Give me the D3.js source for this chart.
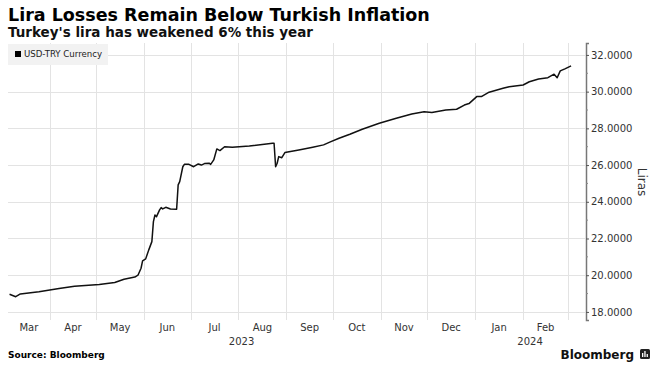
<!DOCTYPE html>
<html>
<head>
<title>Lira Losses Remain Below Turkish Inflation</title>
<style>
body {
  margin: 0;
  background-color: white;
  font-family: "DejaVu Sans", sans-serif;
}
svg {
  display: block;
}
.grid line {
  stroke: #e3e3e3;
  stroke-width: 1px;
  shape-rendering: crispEdges;
}
.axis text {
  font-family: "DejaVu Sans", sans-serif;
  font-size: 10px;
  fill: #333;
}
</style>
<script src="https://d3js.org/d3.v7.min.js"></script>
</head>
<body>
<svg width="660" height="378"></svg>
<script>
// USD-TRY daily close
const dates = [
  '2023-03-06', '2023-03-10', '2023-03-13', '2023-03-25', '2023-04-07', '2023-04-17',
  '2023-05-03', '2023-05-13', '2023-05-19', '2023-05-26', '2023-05-28', '2023-05-30',
  '2023-05-31', '2023-06-02', '2023-06-04', '2023-06-06', '2023-06-07', '2023-06-08',
  '2023-06-09', '2023-06-11', '2023-06-12', '2023-06-13', '2023-06-15', '2023-06-18',
  '2023-06-22', '2023-06-23', '2023-06-24', '2023-06-26', '2023-06-27', '2023-06-30',
  '2023-07-03', '2023-07-06', '2023-07-08', '2023-07-10', '2023-07-13', '2023-07-14',
  '2023-07-16', '2023-07-18', '2023-07-20', '2023-07-23', '2023-07-28', '2023-08-08',
  '2023-08-23', '2023-08-24', '2023-08-25', '2023-08-26', '2023-08-27', '2023-08-29',
  '2023-08-31', '2023-09-09', '2023-09-18', '2023-09-25', '2023-09-29', '2023-10-05',
  '2023-10-12', '2023-10-20', '2023-10-31', '2023-11-11', '2023-11-21', '2023-11-29',
  '2023-12-04', '2023-12-13', '2023-12-20', '2023-12-25', '2023-12-28', '2024-01-02',
  '2024-01-05', '2024-01-10', '2024-01-19', '2024-01-23', '2024-02-01', '2024-02-05',
  '2024-02-11', '2024-02-17', '2024-02-21', '2024-02-23', '2024-02-25', '2024-02-28',
  '2024-03-03'
];
const usdTry = [
  18.96, 18.83, 18.98, 19.10, 19.27, 19.40,
  19.50, 19.60, 19.78, 19.90, 20.00, 20.38,
  20.78, 20.89, 21.38, 21.83, 22.92, 23.28,
  23.19, 23.56, 23.68, 23.61, 23.70, 23.61,
  23.59, 24.92, 25.10, 25.91, 26.04, 26.04,
  25.91, 26.06, 26.00, 26.08, 26.10, 26.04,
  26.28, 26.88, 26.79, 27.00, 26.97, 27.04,
  27.19, 27.19, 25.91, 26.10, 26.46, 26.40,
  26.68, 26.82, 26.97, 27.10, 27.25, 27.46,
  27.68, 27.95, 28.28, 28.55, 28.78, 28.90,
  28.86, 29.00, 29.04, 29.27, 29.35, 29.73,
  29.73, 29.97, 30.18, 30.27, 30.36, 30.54,
  30.69, 30.76, 30.95, 30.76, 31.13, 31.24,
  31.40
];
const yTicks = [18, 20, 22, 24, 26, 28, 30, 32];
const yMinorTicks = [19, 21, 23, 25, 27, 29, 31];
const monthStarts = ['2023-04-01', '2023-05-01', '2023-06-01', '2023-07-01', '2023-08-01',
  '2023-09-01', '2023-10-01', '2023-11-01', '2023-12-01', '2024-01-01', '2024-02-01', '2024-03-01'];
const monthLabels = ['Mar', 'Apr', 'May', 'Jun', 'Jul', 'Aug', 'Sep', 'Oct', 'Nov', 'Dec', 'Jan', 'Feb'];
const yearLabels = ['2023', '2024'];

const parse = d3.timeParse('%Y-%m-%d');
const data = dates.map((d, i) => ({ date: parse(d), value: usdTry[i] }));

const svg = d3.select('svg');
const plot = { left: 8, right: 585, top: 43, bottom: 320 };
const xStart = parse('2023-03-05');
const xEnd = parse('2024-03-12');

const x = d3.scaleTime().domain([xStart, xEnd]).range([plot.left, plot.right]);
const y = d3.scaleLinear().domain([17.56, 32.65]).range([plot.bottom, plot.top]);

// grid
const grid = svg.append('g').attr('class', 'grid');
grid.selectAll('.h').data(yTicks).enter().append('line')
  .attr('x1', plot.left).attr('x2', plot.right)
  .attr('y1', d => Math.round(y(d)) + 0.5).attr('y2', d => Math.round(y(d)) + 0.5);
grid.selectAll('.v').data(monthStarts.map(parse)).enter().append('line')
  .attr('x1', d => Math.round(x(d)) + 0.5).attr('x2', d => Math.round(x(d)) + 0.5)
  .attr('y1', plot.top).attr('y2', plot.bottom);

// legend
const legend = svg.append('g');
legend.append('rect')
  .attr('x', 8).attr('y', 44).attr('width', 100).attr('height', 21)
  .attr('fill', '#f2f2f2');
legend.append('rect')
  .attr('x', 15).attr('y', 51).attr('width', 6).attr('height', 6)
  .attr('fill', '#000');
legend.append('text')
  .attr('x', 24).attr('y', 54).attr('dy', '0.35em')
  .attr('font-size', 8.6).attr('fill', '#222')
  .text('USD-TRY Currency');

// line
const line = d3.line()
  .x(d => x(d.date))
  .y(d => y(d.value));
svg.append('path')
  .datum(data)
  .attr('d', line)
  .attr('fill', 'none')
  .attr('stroke', '#111')
  .attr('stroke-width', 1.5)
  .attr('stroke-linejoin', 'round');

// y axis on the right
const yAxis = svg.append('g')
  .attr('class', 'axis')
  .attr('transform', `translate(${plot.right + 1},0)`)
  .call(d3.axisRight(y).tickValues(yTicks).tickSize(3).tickPadding(2).tickFormat(d3.format('.4f')));
yAxis.select('.domain').attr('stroke', '#777').attr('stroke-width', 1.5);
yAxis.selectAll('.tick line').attr('stroke', '#555');
svg.append('g')
  .attr('transform', `translate(${plot.right + 1},0)`)
  .selectAll('line').data(yMinorTicks).enter().append('line')
  .attr('x1', 0).attr('x2', 2)
  .attr('y1', d => y(d)).attr('y2', d => y(d))
  .attr('stroke', '#888');

svg.append('text')
  .attr('transform', `translate(642,182) rotate(90)`)
  .attr('text-anchor', 'middle')
  .attr('dy', '0.35em')
  .attr('font-size', 12)
  .attr('fill', '#333')
  .text('Liras');

// month labels centred on the visible part of each month
const bounds = [xStart].concat(monthStarts.map(parse));
const months = monthLabels.map((m, i) => ({ label: m, mid: new Date((+bounds[i] + +bounds[i + 1]) / 2) }));
svg.append('g').attr('class', 'axis')
  .selectAll('text').data(months).enter().append('text')
  .attr('x', d => x(d.mid)).attr('y', 327).attr('dy', '0.35em')
  .attr('text-anchor', 'middle')
  .text(d => d.label);

const years = [
  { label: yearLabels[0], mid: new Date((+xStart + +parse('2024-01-01')) / 2) },
  { label: yearLabels[1], mid: new Date((+parse('2024-01-01') + +xEnd) / 2) }
];
svg.append('g').attr('class', 'axis')
  .selectAll('text').data(years).enter().append('text')
  .attr('x', d => x(d.mid)).attr('y', 341).attr('dy', '0.35em')
  .attr('text-anchor', 'middle')
  .text(d => d.label);

// titles
svg.append('text')
  .attr('x', 8).attr('y', 21)
  .attr('font-size', 17.5).attr('font-weight', 'bold').attr('fill', '#000')
  .text('Lira Losses Remain Below Turkish Inflation');
svg.append('text')
  .attr('x', 8).attr('y', 37)
  .attr('font-size', 13.5).attr('font-weight', 'bold').attr('fill', '#111')
  .text("Turkey's lira has weakened 6% this year");

// footer
svg.append('text')
  .attr('x', 8).attr('y', 358)
  .attr('font-size', 9).attr('font-weight', 'bold').attr('fill', '#000')
  .text('Source: Bloomberg');
svg.append('text')
  .attr('x', 634).attr('y', 359)
  .attr('text-anchor', 'end')
  .attr('font-size', 12).attr('font-weight', 'bold').attr('fill', '#111')
  .text('Bloomberg');
const logo = svg.append('g').attr('transform', 'translate(640,349)');
logo.append('rect').attr('width', 10).attr('height', 10).attr('rx', 1.5).attr('fill', '#222');
logo.selectAll('.bar').data([4, 6, 3]).enter().append('rect')
  .attr('x', (d, i) => 2 + i * 2.3).attr('y', d => 8 - d)
  .attr('width', 1.3).attr('height', d => d)
  .attr('fill', '#fff');
</script>
</body>
</html>
